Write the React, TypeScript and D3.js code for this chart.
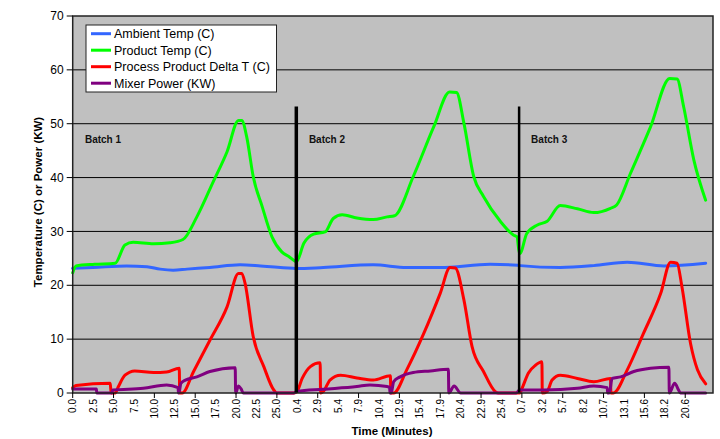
import React from "react";
import * as d3 from "d3";

// ---------- data ----------
const tickLabels = [
  "0.0", "2.5", "5.0", "7.5", "10.0", "12.5", "15.0", "17.5", "20.0", "22.5", "25.0",
  "0.4", "2.9", "5.4", "7.9", "10.4", "12.9", "15.4", "17.9", "20.4", "22.9", "25.4",
  "0.7", "3.2", "5.7", "8.2", "10.7", "13.1", "15.6", "18.2", "20.6",
];
const labelStep = 2.5; // elapsed minutes between category labels
const batchNames = ["Batch 1", "Batch 2", "Batch 3"];
const batchOffsets = [0, 27.1, 54.3]; // elapsed minutes at local time 0
const batchLineTimes = [0.28, 0.36]; // local start time of batch 2 and 3 (marker lines)
const batchLabelTimes = [1.5, 1.82, 1.83];
const yTicks = [0, 10, 20, 30, 40, 50, 60, 70];

type P = [number, number, number]; // [batch, local minute, value]

const ambientTemp: P[] = [
  [0, 0, 23.15], [0, 2.5, 23.3], [0, 6.6, 23.6], [0, 9.1, 23.45], [0, 10.7, 23.0], [0, 12.3, 22.8],
  [0, 14.0, 23.0], [0, 16.8, 23.3], [0, 20.5, 23.8], [0, 23.0, 23.6], [0, 27.0, 23.15],
  [1, 0.3, 23.1], [1, 3.6, 23.3], [1, 9.7, 23.8], [1, 13.8, 23.3], [1, 17.9, 23.3], [1, 24.0, 23.9], [1, 27.4, 23.7],
  [2, 0.5, 23.65], [2, 5.4, 23.3], [2, 9.5, 23.65], [2, 13.6, 24.3], [2, 18.1, 23.6], [2, 23.2, 24.1],
];

const productTemp: P[] = [
  [0, 0, 22.3], [0, 0.4, 23.6], [0, 2.7, 23.9], [0, 5.2, 24.1], [0, 6.4, 27.5], [0, 7.4, 28.0],
  [0, 9.9, 27.7], [0, 11.9, 27.9], [0, 13.5, 28.5], [0, 15.2, 32.7], [0, 17.2, 39.2], [0, 18.9, 44.8],
  [0, 20.3, 50.6], [0, 20.7, 50.6], [0, 21.3, 47.6], [0, 22.1, 40.2], [0, 23.2, 34.6], [0, 24.4, 29.0],
  [0, 25.6, 26.2], [0, 26.5, 25.3], [0, 27.2, 24.5],
  [1, 0.3, 24.4], [1, 1.2, 27.8], [1, 2.4, 29.5], [1, 3.8, 29.9], [1, 4.8, 32.4], [1, 5.9, 33.1],
  [1, 7.7, 32.5], [1, 9.7, 32.2], [1, 11.4, 32.7], [1, 12.3, 32.9], [1, 14.6, 40.2], [1, 17.1, 49.4],
  [1, 19.05, 55.9], [1, 19.9, 55.8], [1, 20.8, 50.1], [1, 22.0, 40.2], [1, 23.2, 36.5], [1, 25.3, 31.8],
  [1, 26.9, 29.3], [1, 27.3, 29.0], [1, 27.6, 25.9],
  [2, 0.45, 25.9], [2, 1.3, 29.6], [2, 2.6, 31.2], [2, 3.8, 31.9], [2, 5.4, 34.8], [2, 7.5, 34.2],
  [2, 9.5, 33.5], [2, 11.55, 34.3], [2, 12.3, 34.9], [2, 14.0, 40.8], [2, 16.45, 49.4], [2, 18.8, 58.4],
  [2, 19.7, 58.3], [2, 20.5, 53.2], [2, 21.75, 43.3], [2, 23.2, 35.8],
];

const processDeltaT: P[] = [
  [0, 0, 1.0], [0, 0.4, 1.4], [0, 4.6, 1.8], [0, 4.7, 0], [0, 5.2, 0], [0, 5.6, 1.2], [0, 6.4, 3.3],
  [0, 7.6, 4.1], [0, 9.9, 3.8], [0, 11.5, 3.9], [0, 13.05, 4.6], [0, 13.1, 0], [0, 13.4, 0], [0, 14.8, 4.0],
  [0, 16.8, 9.8], [0, 18.9, 16.0], [0, 20.3, 22.2], [0, 20.7, 22.2], [0, 21.1, 20.4], [0, 22.1, 10.5],
  [0, 23.4, 4.9], [0, 24.6, 0.6], [0, 25.0, 0],
  [1, 0.0, 0], [1, 0.35, 0.25], [1, 1.0, 2.7], [1, 2.0, 4.9], [1, 3.2, 5.6], [1, 3.25, 0], [1, 3.6, 0.3],
  [1, 4.4, 2.4], [1, 5.7, 3.3], [1, 7.7, 2.8], [1, 9.7, 2.4], [1, 11.8, 3.2], [1, 11.85, 0], [1, 12.2, 0],
  [1, 13.8, 4.3], [1, 15.9, 11.1], [1, 17.9, 18.5], [1, 19.1, 23.3], [1, 19.75, 23.2], [1, 20.8, 17.3],
  [1, 21.8, 8.6], [1, 23.2, 4.0], [1, 24.65, 0.25], [1, 25.0, 0],
  [2, 0.0, 0], [2, 0.46, 0], [2, 0.73, 0.9], [2, 1.5, 3.7], [2, 2.4, 5.2], [2, 3.15, 5.8], [2, 3.2, 0],
  [2, 3.8, 0.3], [2, 4.4, 2.4], [2, 5.4, 3.3], [2, 7.5, 2.7], [2, 9.5, 2.1], [2, 11.55, 2.7], [2, 11.6, 0],
  [2, 11.9, 0], [2, 13.6, 4.3], [2, 15.6, 11.1], [2, 17.7, 18.5], [2, 18.9, 24.3], [2, 19.7, 24.1],
  [2, 20.3, 19.7], [2, 21.35, 9.2], [2, 22.2, 4.3], [2, 23.2, 1.7],
];

const mixerPower: P[] = [
  [0, 0, 0.75], [0, 2.9, 0.75], [0, 2.95, 0], [0, 4.8, 0], [0, 4.9, 0.55], [0, 8.65, 0.87], [0, 11.5, 1.5],
  [0, 12.9, 1.0], [0, 12.95, 0], [0, 13.0, 0], [0, 13.25, 1.8], [0, 13.8, 2.4], [0, 15.2, 3.0], [0, 16.8, 4.0],
  [0, 19.9, 4.7], [0, 19.95, 0], [0, 20.3, 1.3], [0, 20.6, 0.8], [0, 20.9, 0],
  [1, 0.0, 0], [1, 0.35, 0.3], [1, 3.6, 0.7], [1, 7.7, 1.2], [1, 9.3, 1.5], [1, 11.4, 1.2], [1, 11.7, 1.1],
  [1, 11.75, 0], [1, 11.9, 0], [1, 12.2, 2.1], [1, 13.0, 3.0], [1, 14.6, 3.8], [1, 16.7, 4.1], [1, 18.9, 4.4],
  [1, 18.95, 0], [1, 19.6, 1.3], [1, 20.4, 0],
  [2, 0.0, 0], [2, 0.4, 0.55], [2, 3.4, 0.55], [2, 7.5, 0.87], [2, 9.5, 1.3], [2, 11.15, 1.0], [2, 11.2, 0],
  [2, 11.4, 0], [2, 11.75, 2.7], [2, 12.8, 3.0], [2, 14.4, 4.0], [2, 16.45, 4.6], [2, 18.7, 4.8], [2, 18.75, 0],
  [2, 19.4, 1.8], [2, 19.9, 0.5], [2, 20.1, 0], [2, 23.2, 0],
];

const seriesNames = ["Ambient Temp (C)", "Product Temp (C)", "Process Product Delta T (C)", "Mixer Power (KW)"];
const seriesColors = ["#3366ff", "#00ff00", "#ff0000", "#800080"];
const seriesData = [ambientTemp, productTemp, processDeltaT, mixerPower];

// ---------- chart ----------
const W = 720, H = 439;
const plot = { left: 72.7, right: 713, top: 16, bottom: 393 };

export default function App() {
  const x = d3.scaleLinear().domain([0, 78.4]).range([plot.left, plot.right]);
  const y = d3.scaleLinear().domain([0, 70]).range([plot.bottom, plot.top]);
  const elapsed = (p: P) => batchOffsets[p[0]] + p[1];
  const line = d3.line<P>().x((p) => x(elapsed(p))).y((p) => y(p[2])).curve(d3.curveMonotoneX);
  const font = "Arial, 'Liberation Sans', sans-serif";

  return (
    <svg width={W} height={H} style={{ position: "absolute", left: 0, top: 0, background: "#fff" }} fontFamily={font}>
      <rect x={plot.left} y={plot.top} width={plot.right - plot.left} height={plot.bottom - plot.top} fill="#c0c0c0" />
      {yTicks.slice(1, -1).map((t) => (
        <line key={t} x1={plot.left} x2={plot.right} y1={y(t)} y2={y(t)} stroke="#000" strokeWidth={1} />
      ))}
      {/* series */}
      {seriesData.map((d, i) => (
        <path key={i} d={line(d) || ""} fill="none" stroke={seriesColors[i]} strokeWidth={3} strokeLinejoin="round" strokeLinecap="round" />
      ))}
      {/* batch marker lines */}
      {batchLineTimes.map((t, i) => (
        <line key={i} x1={x(batchOffsets[i + 1] + t)} x2={x(batchOffsets[i + 1] + t)} y1={y(53.2)} y2={plot.bottom}
          stroke="#000" strokeWidth={i === 0 ? 3.5 : 2.5} />
      ))}
      {batchNames.map((n, i) => (
        <text key={n} x={x(batchOffsets[i] + batchLabelTimes[i])} y={y(46.4)} fontSize={10} fontWeight="bold" fill="#111">{n}</text>
      ))}
      {/* frame */}
      <rect x={plot.left} y={plot.top} width={plot.right - plot.left} height={plot.bottom - plot.top} fill="none" stroke="#222" strokeWidth={1.5} />
      {/* y axis */}
      {yTicks.map((t) => (
        <g key={t}>
          <line x1={plot.left - 6} x2={plot.left} y1={y(t)} y2={y(t)} stroke="#000" />
          <text x={plot.left - 9} y={y(t) + 4.2} fontSize={12} textAnchor="end" fill="#000">{t}</text>
        </g>
      ))}
      {/* x axis */}
      {tickLabels.map((lab, i) => {
        const px = x(i * labelStep);
        return (
          <g key={i}>
            {i % 2 === 0 && <line x1={px} x2={px} y1={plot.bottom} y2={plot.bottom + 5} stroke="#000" />}
            <text transform={`translate(${px + 3.6},${plot.bottom + 6}) rotate(-90)`} fontSize={10} textAnchor="end" fill="#000">{lab}</text>
          </g>
        );
      })}
      <text x={392} y={435} fontSize={11.5} fontWeight="bold" textAnchor="middle" fill="#000">Time (Minutes)</text>
      <text transform="translate(41.5,202) rotate(-90)" fontSize={11.5} fontWeight="bold" textAnchor="middle" fill="#000">Temperature (C) or Power (KW)</text>
      {/* legend */}
      <g>
        <rect x={86} y={25} width={190.5} height={67} fill="#fff" stroke="#222" strokeWidth={1} />
        {seriesNames.map((n, i) => (
          <g key={n} transform={`translate(0,${33.7 + i * 16.5})`}>
            <line x1={91} x2={111} y1={0} y2={0} stroke={seriesColors[i]} strokeWidth={3} />
            <text x={114} y={4.5} fontSize={12.5} fill="#000">{n}</text>
          </g>
        ))}
      </g>
    </svg>
  );
}
